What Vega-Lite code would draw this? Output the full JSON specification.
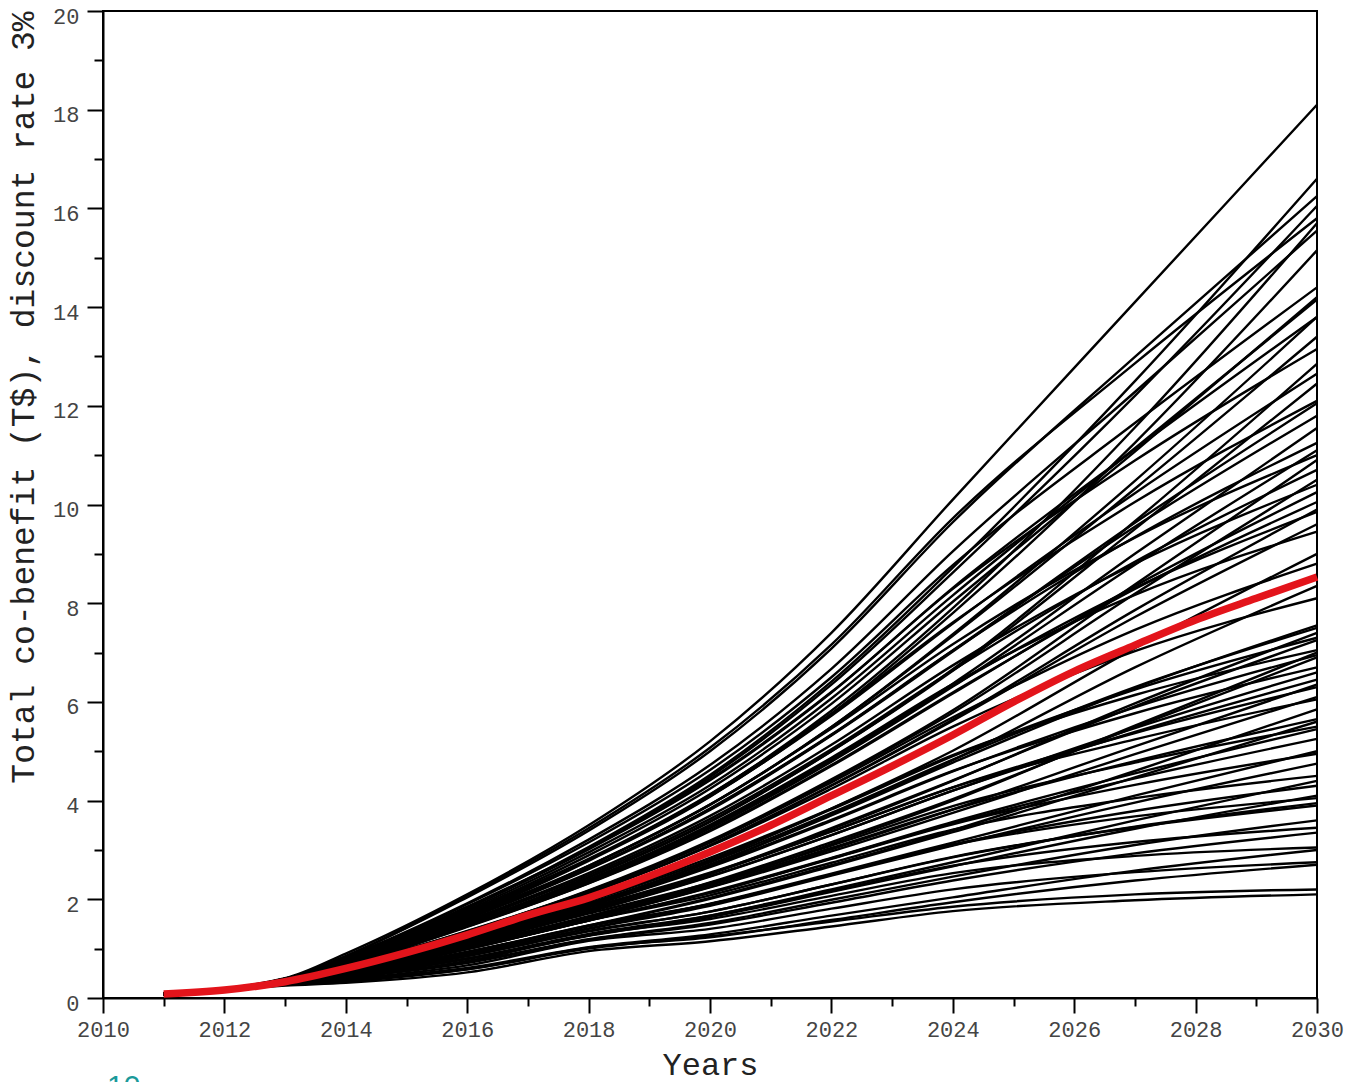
{
"$schema":"https://vega.github.io/schema/vega-lite/v6.json",
"width":1214,"height":987,
"autosize":{"type":"none"},
"padding":{"left":103,"top":11,"right":28,"bottom":84},
"background":"white",
"title":{"text":"10","orient":"bottom","anchor":"start","frame":"group","color":"#1a9a9a","fontSize":30,"fontWeight":"normal","font":"Liberation Sans","offset":-8,"dx":4,"baseline":"top"},
"config":{"view":{"stroke":"black","strokeWidth":2},
"axis":{"domainColor":"black","domainWidth":2,"tickColor":"black","tickWidth":2,"grid":false,"labelFont":"Liberation Mono","labelFontSize":22,"labelColor":"#444444","titleFont":"Liberation Mono","titleFontWeight":"normal","titleColor":"#222222"}},
"datasets":{
"runs":[
{"run":1,"year":2011,"v":0.06},{"run":1,"year":2013,"v":0.25},{"run":1,"year":2014,"v":0.31},{"run":1,"year":2016,"v":0.52},{"run":1,"year":2018,"v":0.95},{"run":1,"year":2020,"v":1.15},{"run":1,"year":2022,"v":1.45},{"run":1,"year":2024,"v":1.76},{"run":1,"year":2027,"v":1.98},{"run":1,"year":2030,"v":2.1},
{"run":2,"year":2011,"v":0.06},{"run":2,"year":2013,"v":0.26},{"run":2,"year":2014,"v":0.33},{"run":2,"year":2016,"v":0.58},{"run":2,"year":2018,"v":1.0},{"run":2,"year":2020,"v":1.25},{"run":2,"year":2022,"v":1.55},{"run":2,"year":2024,"v":1.85},{"run":2,"year":2027,"v":2.1},{"run":2,"year":2030,"v":2.2},
{"run":3,"year":2011,"v":0.06},{"run":3,"year":2013,"v":0.27},{"run":3,"year":2014,"v":0.36},{"run":3,"year":2016,"v":0.58},{"run":3,"year":2018,"v":1.02},{"run":3,"year":2020,"v":1.23},{"run":3,"year":2022,"v":1.58},{"run":3,"year":2024,"v":1.94},{"run":3,"year":2027,"v":2.38},{"run":3,"year":2030,"v":2.7},
{"run":4,"year":2011,"v":0.06},{"run":4,"year":2013,"v":0.27},{"run":4,"year":2014,"v":0.38},{"run":4,"year":2016,"v":0.66},{"run":4,"year":2018,"v":1.16},{"run":4,"year":2020,"v":1.4},{"run":4,"year":2022,"v":1.81},{"run":4,"year":2024,"v":2.2},{"run":4,"year":2027,"v":2.55},{"run":4,"year":2030,"v":2.75},
{"run":5,"year":2011,"v":0.065},{"run":5,"year":2013,"v":0.28},{"run":5,"year":2014,"v":0.37},{"run":5,"year":2016,"v":0.61},{"run":5,"year":2018,"v":1.03},{"run":5,"year":2020,"v":1.29},{"run":5,"year":2022,"v":1.67},{"run":5,"year":2024,"v":2.04},{"run":5,"year":2027,"v":2.58},{"run":5,"year":2030,"v":3.0},
{"run":6,"year":2011,"v":0.065},{"run":6,"year":2013,"v":0.28},{"run":6,"year":2014,"v":0.4},{"run":6,"year":2016,"v":0.75},{"run":6,"year":2018,"v":1.27},{"run":6,"year":2020,"v":1.6},{"run":6,"year":2022,"v":2.07},{"run":6,"year":2024,"v":2.53},{"run":6,"year":2027,"v":2.88},{"run":6,"year":2030,"v":3.05},
{"run":7,"year":2011,"v":0.067},{"run":7,"year":2013,"v":0.29},{"run":7,"year":2014,"v":0.41},{"run":7,"year":2016,"v":0.71},{"run":7,"year":2018,"v":1.18},{"run":7,"year":2020,"v":1.49},{"run":7,"year":2022,"v":1.93},{"run":7,"year":2024,"v":2.38},{"run":7,"year":2027,"v":2.93},{"run":7,"year":2030,"v":3.35},
{"run":8,"year":2011,"v":0.067},{"run":8,"year":2013,"v":0.29},{"run":8,"year":2014,"v":0.42},{"run":8,"year":2016,"v":0.8},{"run":8,"year":2018,"v":1.3},{"run":8,"year":2020,"v":1.67},{"run":8,"year":2022,"v":2.17},{"run":8,"year":2024,"v":2.68},{"run":8,"year":2027,"v":3.16},{"run":8,"year":2030,"v":3.45},
{"run":9,"year":2011,"v":0.068},{"run":9,"year":2013,"v":0.29},{"run":9,"year":2014,"v":0.42},{"run":9,"year":2016,"v":0.73},{"run":9,"year":2018,"v":1.19},{"run":9,"year":2020,"v":1.52},{"run":9,"year":2022,"v":1.99},{"run":9,"year":2024,"v":2.46},{"run":9,"year":2027,"v":3.1},{"run":9,"year":2030,"v":3.6},
{"run":10,"year":2011,"v":0.07},{"run":10,"year":2013,"v":0.3},{"run":10,"year":2014,"v":0.44},{"run":10,"year":2016,"v":0.85},{"run":10,"year":2018,"v":1.36},{"run":10,"year":2020,"v":1.75},{"run":10,"year":2022,"v":2.3},{"run":10,"year":2024,"v":2.86},{"run":10,"year":2027,"v":3.46},{"run":10,"year":2030,"v":3.9},
{"run":11,"year":2011,"v":0.07},{"run":11,"year":2013,"v":0.3},{"run":11,"year":2014,"v":0.45},{"run":11,"year":2016,"v":0.85},{"run":11,"year":2018,"v":1.35},{"run":11,"year":2020,"v":1.75},{"run":11,"year":2022,"v":2.3},{"run":11,"year":2024,"v":2.85},{"run":11,"year":2027,"v":3.47},{"run":11,"year":2030,"v":3.95},
{"run":12,"year":2011,"v":0.07},{"run":12,"year":2013,"v":0.3},{"run":12,"year":2014,"v":0.46},{"run":12,"year":2016,"v":0.92},{"run":12,"year":2018,"v":1.47},{"run":12,"year":2020,"v":1.9},{"run":12,"year":2022,"v":2.5},{"run":12,"year":2024,"v":3.1},{"run":12,"year":2027,"v":3.68},{"run":12,"year":2030,"v":4.05},
{"run":13,"year":2011,"v":0.07},{"run":13,"year":2013,"v":0.3},{"run":13,"year":2014,"v":0.44},{"run":13,"year":2016,"v":0.79},{"run":13,"year":2018,"v":1.26},{"run":13,"year":2020,"v":1.64},{"run":13,"year":2022,"v":2.15},{"run":13,"year":2024,"v":2.67},{"run":13,"year":2027,"v":3.43},{"run":13,"year":2030,"v":4.1},
{"run":14,"year":2011,"v":0.07},{"run":14,"year":2013,"v":0.3},{"run":14,"year":2014,"v":0.46},{"run":14,"year":2016,"v":0.92},{"run":14,"year":2018,"v":1.45},{"run":14,"year":2020,"v":1.9},{"run":14,"year":2022,"v":2.5},{"run":14,"year":2024,"v":3.11},{"run":14,"year":2027,"v":3.79},{"run":14,"year":2030,"v":4.3},
{"run":15,"year":2011,"v":0.072},{"run":15,"year":2013,"v":0.3},{"run":15,"year":2014,"v":0.45},{"run":15,"year":2016,"v":0.8},{"run":15,"year":2018,"v":1.27},{"run":15,"year":2020,"v":1.67},{"run":15,"year":2022,"v":2.2},{"run":15,"year":2024,"v":2.75},{"run":15,"year":2027,"v":3.6},{"run":15,"year":2030,"v":4.4},
{"run":16,"year":2011,"v":0.072},{"run":16,"year":2013,"v":0.31},{"run":16,"year":2014,"v":0.48},{"run":16,"year":2016,"v":0.99},{"run":16,"year":2018,"v":1.57},{"run":16,"year":2020,"v":2.08},{"run":16,"year":2022,"v":2.74},{"run":16,"year":2024,"v":3.41},{"run":16,"year":2027,"v":4.05},{"run":16,"year":2030,"v":4.5},
{"run":17,"year":2011,"v":0.074},{"run":17,"year":2013,"v":0.31},{"run":17,"year":2014,"v":0.47},{"run":17,"year":2016,"v":0.89},{"run":17,"year":2018,"v":1.4},{"run":17,"year":2020,"v":1.87},{"run":17,"year":2022,"v":2.48},{"run":17,"year":2024,"v":3.09},{"run":17,"year":2027,"v":3.96},{"run":17,"year":2030,"v":4.75},
{"run":18,"year":2011,"v":0.075},{"run":18,"year":2013,"v":0.31},{"run":18,"year":2014,"v":0.49},{"run":18,"year":2016,"v":1.0},{"run":18,"year":2018,"v":1.58},{"run":18,"year":2020,"v":2.13},{"run":18,"year":2022,"v":2.82},{"run":18,"year":2024,"v":3.52},{"run":18,"year":2027,"v":4.32},{"run":18,"year":2030,"v":4.95},
{"run":19,"year":2011,"v":0.075},{"run":19,"year":2013,"v":0.31},{"run":19,"year":2014,"v":0.47},{"run":19,"year":2016,"v":0.89},{"run":19,"year":2018,"v":1.41},{"run":19,"year":2020,"v":1.91},{"run":19,"year":2022,"v":2.52},{"run":19,"year":2024,"v":3.15},{"run":19,"year":2027,"v":4.1},{"run":19,"year":2030,"v":5.0},
{"run":20,"year":2011,"v":0.076},{"run":20,"year":2013,"v":0.31},{"run":20,"year":2014,"v":0.5},{"run":20,"year":2016,"v":0.99},{"run":20,"year":2018,"v":1.57},{"run":20,"year":2020,"v":2.13},{"run":20,"year":2022,"v":2.83},{"run":20,"year":2024,"v":3.54},{"run":20,"year":2027,"v":4.45},{"run":20,"year":2030,"v":5.25},
{"run":21,"year":2011,"v":0.077},{"run":21,"year":2013,"v":0.32},{"run":21,"year":2014,"v":0.5},{"run":21,"year":2016,"v":1.0},{"run":21,"year":2018,"v":1.57},{"run":21,"year":2020,"v":2.15},{"run":21,"year":2022,"v":2.84},{"run":21,"year":2024,"v":3.57},{"run":21,"year":2027,"v":4.55},{"run":21,"year":2030,"v":5.45},
{"run":22,"year":2011,"v":0.078},{"run":22,"year":2013,"v":0.32},{"run":22,"year":2014,"v":0.52},{"run":22,"year":2016,"v":1.08},{"run":22,"year":2018,"v":1.71},{"run":22,"year":2020,"v":2.33},{"run":22,"year":2022,"v":3.09},{"run":22,"year":2024,"v":3.89},{"run":22,"year":2027,"v":4.77},{"run":22,"year":2030,"v":5.5},
{"run":23,"year":2011,"v":0.078},{"run":23,"year":2013,"v":0.31},{"run":23,"year":2014,"v":0.49},{"run":23,"year":2016,"v":0.93},{"run":23,"year":2018,"v":1.46},{"run":23,"year":2020,"v":2.01},{"run":23,"year":2022,"v":2.67},{"run":23,"year":2024,"v":3.36},{"run":23,"year":2027,"v":4.47},{"run":23,"year":2030,"v":5.6},
{"run":24,"year":2011,"v":0.078},{"run":24,"year":2013,"v":0.32},{"run":24,"year":2014,"v":0.51},{"run":24,"year":2016,"v":1.06},{"run":24,"year":2018,"v":1.66},{"run":24,"year":2020,"v":2.29},{"run":24,"year":2022,"v":3.04},{"run":24,"year":2024,"v":3.82},{"run":24,"year":2027,"v":4.8},{"run":24,"year":2030,"v":5.65},
{"run":25,"year":2011,"v":0.08},{"run":25,"year":2013,"v":0.32},{"run":25,"year":2014,"v":0.49},{"run":25,"year":2016,"v":0.94},{"run":25,"year":2018,"v":1.47},{"run":25,"year":2020,"v":2.03},{"run":25,"year":2022,"v":2.69},{"run":25,"year":2024,"v":3.4},{"run":25,"year":2027,"v":4.6},{"run":25,"year":2030,"v":5.85},
{"run":26,"year":2011,"v":0.08},{"run":26,"year":2013,"v":0.32},{"run":26,"year":2014,"v":0.54},{"run":26,"year":2016,"v":1.16},{"run":26,"year":2018,"v":1.83},{"run":26,"year":2020,"v":2.54},{"run":26,"year":2022,"v":3.38},{"run":26,"year":2024,"v":4.27},{"run":26,"year":2027,"v":5.24},{"run":26,"year":2030,"v":6.05},
{"run":27,"year":2011,"v":0.08},{"run":27,"year":2013,"v":0.32},{"run":27,"year":2014,"v":0.52},{"run":27,"year":2016,"v":1.02},{"run":27,"year":2018,"v":1.6},{"run":27,"year":2020,"v":2.24},{"run":27,"year":2022,"v":2.97},{"run":27,"year":2024,"v":3.75},{"run":27,"year":2027,"v":4.94},{"run":27,"year":2030,"v":6.1},
{"run":28,"year":2011,"v":0.08},{"run":28,"year":2013,"v":0.32},{"run":28,"year":2014,"v":0.54},{"run":28,"year":2016,"v":1.14},{"run":28,"year":2018,"v":1.8},{"run":28,"year":2020,"v":2.52},{"run":28,"year":2022,"v":3.37},{"run":28,"year":2024,"v":4.27},{"run":28,"year":2027,"v":5.37},{"run":28,"year":2030,"v":6.3},
{"run":29,"year":2011,"v":0.08},{"run":29,"year":2013,"v":0.32},{"run":29,"year":2014,"v":0.52},{"run":29,"year":2016,"v":1.02},{"run":29,"year":2018,"v":1.6},{"run":29,"year":2020,"v":2.25},{"run":29,"year":2022,"v":3.01},{"run":29,"year":2024,"v":3.82},{"run":29,"year":2027,"v":5.1},{"run":29,"year":2030,"v":6.35},
{"run":30,"year":2011,"v":0.08},{"run":30,"year":2013,"v":0.32},{"run":30,"year":2014,"v":0.54},{"run":30,"year":2016,"v":1.11},{"run":30,"year":2018,"v":1.75},{"run":30,"year":2020,"v":2.47},{"run":30,"year":2022,"v":3.3},{"run":30,"year":2024,"v":4.2},{"run":30,"year":2027,"v":5.39},{"run":30,"year":2030,"v":6.45},
{"run":31,"year":2011,"v":0.08},{"run":31,"year":2013,"v":0.32},{"run":31,"year":2014,"v":0.54},{"run":31,"year":2016,"v":1.1},{"run":31,"year":2018,"v":1.74},{"run":31,"year":2020,"v":2.46},{"run":31,"year":2022,"v":3.3},{"run":31,"year":2024,"v":4.2},{"run":31,"year":2027,"v":5.47},{"run":31,"year":2030,"v":6.6},
{"run":32,"year":2011,"v":0.08},{"run":32,"year":2013,"v":0.32},{"run":32,"year":2014,"v":0.55},{"run":32,"year":2016,"v":1.2},{"run":32,"year":2018,"v":1.9},{"run":32,"year":2020,"v":2.68},{"run":32,"year":2022,"v":3.61},{"run":32,"year":2024,"v":4.6},{"run":32,"year":2027,"v":5.77},{"run":32,"year":2030,"v":6.7},
{"run":33,"year":2011,"v":0.08},{"run":33,"year":2013,"v":0.32},{"run":33,"year":2014,"v":0.53},{"run":33,"year":2016,"v":1.04},{"run":33,"year":2018,"v":1.65},{"run":33,"year":2020,"v":2.34},{"run":33,"year":2022,"v":3.16},{"run":33,"year":2024,"v":4.03},{"run":33,"year":2027,"v":5.49},{"run":33,"year":2030,"v":6.9},
{"run":34,"year":2011,"v":0.08},{"run":34,"year":2013,"v":0.32},{"run":34,"year":2014,"v":0.56},{"run":34,"year":2016,"v":1.19},{"run":34,"year":2018,"v":1.86},{"run":34,"year":2020,"v":2.65},{"run":34,"year":2022,"v":3.59},{"run":34,"year":2024,"v":4.59},{"run":34,"year":2027,"v":5.89},{"run":34,"year":2030,"v":6.95},
{"run":35,"year":2011,"v":0.08},{"run":35,"year":2013,"v":0.32},{"run":35,"year":2014,"v":0.53},{"run":35,"year":2016,"v":1.03},{"run":35,"year":2018,"v":1.62},{"run":35,"year":2020,"v":2.3},{"run":35,"year":2022,"v":3.12},{"run":35,"year":2024,"v":4.0},{"run":35,"year":2027,"v":5.52},{"run":35,"year":2030,"v":7.0},
{"run":36,"year":2011,"v":0.08},{"run":36,"year":2013,"v":0.33},{"run":36,"year":2014,"v":0.57},{"run":36,"year":2016,"v":1.26},{"run":36,"year":2018,"v":1.99},{"run":36,"year":2020,"v":2.84},{"run":36,"year":2022,"v":3.84},{"run":36,"year":2024,"v":4.92},{"run":36,"year":2027,"v":6.14},{"run":36,"year":2030,"v":7.05},
{"run":37,"year":2011,"v":0.08},{"run":37,"year":2013,"v":0.32},{"run":37,"year":2014,"v":0.55},{"run":37,"year":2016,"v":1.12},{"run":37,"year":2018,"v":1.77},{"run":37,"year":2020,"v":2.52},{"run":37,"year":2022,"v":3.44},{"run":37,"year":2024,"v":4.41},{"run":37,"year":2027,"v":5.91},{"run":37,"year":2030,"v":7.25},
{"run":38,"year":2011,"v":0.08},{"run":38,"year":2013,"v":0.33},{"run":38,"year":2014,"v":0.57},{"run":38,"year":2016,"v":1.24},{"run":38,"year":2018,"v":1.96},{"run":38,"year":2020,"v":2.8},{"run":38,"year":2022,"v":3.82},{"run":38,"year":2024,"v":4.9},{"run":38,"year":2027,"v":6.25},{"run":38,"year":2030,"v":7.3},
{"run":39,"year":2011,"v":0.08},{"run":39,"year":2013,"v":0.33},{"run":39,"year":2014,"v":0.55},{"run":39,"year":2016,"v":1.11},{"run":39,"year":2018,"v":1.75},{"run":39,"year":2020,"v":2.51},{"run":39,"year":2022,"v":3.42},{"run":39,"year":2024,"v":4.4},{"run":39,"year":2027,"v":5.97},{"run":39,"year":2030,"v":7.4},
{"run":40,"year":2011,"v":0.08},{"run":40,"year":2013,"v":0.33},{"run":40,"year":2014,"v":0.57},{"run":40,"year":2016,"v":1.21},{"run":40,"year":2018,"v":1.92},{"run":40,"year":2020,"v":2.75},{"run":40,"year":2022,"v":3.75},{"run":40,"year":2024,"v":4.83},{"run":40,"year":2027,"v":6.3},{"run":40,"year":2030,"v":7.5},
{"run":41,"year":2011,"v":0.08},{"run":41,"year":2013,"v":0.33},{"run":41,"year":2014,"v":0.57},{"run":41,"year":2016,"v":1.19},{"run":41,"year":2018,"v":1.89},{"run":41,"year":2020,"v":2.71},{"run":41,"year":2022,"v":3.7},{"run":41,"year":2024,"v":4.77},{"run":41,"year":2027,"v":6.28},{"run":41,"year":2030,"v":7.55},
{"run":42,"year":2011,"v":0.08},{"run":42,"year":2013,"v":0.33},{"run":42,"year":2014,"v":0.6},{"run":42,"year":2016,"v":1.34},{"run":42,"year":2018,"v":2.13},{"run":42,"year":2020,"v":3.08},{"run":42,"year":2022,"v":4.24},{"run":42,"year":2024,"v":5.5},{"run":42,"year":2027,"v":7.03},{"run":42,"year":2030,"v":8.1},
{"run":43,"year":2011,"v":0.08},{"run":43,"year":2013,"v":0.33},{"run":43,"year":2014,"v":0.58},{"run":43,"year":2016,"v":1.17},{"run":43,"year":2018,"v":1.85},{"run":43,"year":2020,"v":2.69},{"run":43,"year":2022,"v":3.72},{"run":43,"year":2024,"v":4.82},{"run":43,"year":2027,"v":6.7},{"run":43,"year":2030,"v":8.35},
{"run":44,"year":2011,"v":0.08},{"run":44,"year":2013,"v":0.33},{"run":44,"year":2014,"v":0.62},{"run":44,"year":2016,"v":1.36},{"run":44,"year":2018,"v":2.16},{"run":44,"year":2020,"v":3.15},{"run":44,"year":2022,"v":4.37},{"run":44,"year":2024,"v":5.69},{"run":44,"year":2027,"v":7.46},{"run":44,"year":2030,"v":8.8},
{"run":45,"year":2011,"v":0.08},{"run":45,"year":2013,"v":0.33},{"run":45,"year":2014,"v":0.6},{"run":45,"year":2016,"v":1.2},{"run":45,"year":2018,"v":1.9},{"run":45,"year":2020,"v":2.77},{"run":45,"year":2022,"v":3.84},{"run":45,"year":2024,"v":5.01},{"run":45,"year":2027,"v":7.09},{"run":45,"year":2030,"v":9.0},
{"run":46,"year":2011,"v":0.083},{"run":46,"year":2013,"v":0.34},{"run":46,"year":2014,"v":0.65},{"run":46,"year":2016,"v":1.51},{"run":46,"year":2018,"v":2.4},{"run":46,"year":2020,"v":3.51},{"run":46,"year":2022,"v":4.87},{"run":46,"year":2024,"v":6.36},{"run":46,"year":2027,"v":8.17},{"run":46,"year":2030,"v":9.45},
{"run":47,"year":2011,"v":0.083},{"run":47,"year":2013,"v":0.34},{"run":47,"year":2014,"v":0.63},{"run":47,"year":2016,"v":1.32},{"run":47,"year":2018,"v":2.12},{"run":47,"year":2020,"v":3.09},{"run":47,"year":2022,"v":4.3},{"run":47,"year":2024,"v":5.62},{"run":47,"year":2027,"v":7.72},{"run":47,"year":2030,"v":9.6},
{"run":48,"year":2011,"v":0.084},{"run":48,"year":2013,"v":0.34},{"run":48,"year":2014,"v":0.65},{"run":48,"year":2016,"v":1.48},{"run":48,"year":2018,"v":2.39},{"run":48,"year":2020,"v":3.48},{"run":48,"year":2022,"v":4.83},{"run":48,"year":2024,"v":6.33},{"run":48,"year":2027,"v":8.31},{"run":48,"year":2030,"v":9.85},
{"run":49,"year":2011,"v":0.084},{"run":49,"year":2013,"v":0.34},{"run":49,"year":2014,"v":0.64},{"run":49,"year":2016,"v":1.33},{"run":49,"year":2018,"v":2.12},{"run":49,"year":2020,"v":3.1},{"run":49,"year":2022,"v":4.31},{"run":49,"year":2024,"v":5.64},{"run":49,"year":2027,"v":7.86},{"run":49,"year":2030,"v":9.9},
{"run":50,"year":2011,"v":0.084},{"run":50,"year":2013,"v":0.34},{"run":50,"year":2014,"v":0.65},{"run":50,"year":2016,"v":1.45},{"run":50,"year":2018,"v":2.33},{"run":50,"year":2020,"v":3.4},{"run":50,"year":2022,"v":4.72},{"run":50,"year":2024,"v":6.19},{"run":50,"year":2027,"v":8.29},{"run":50,"year":2030,"v":10.05},
{"run":51,"year":2011,"v":0.085},{"run":51,"year":2013,"v":0.35},{"run":51,"year":2014,"v":0.66},{"run":51,"year":2016,"v":1.44},{"run":51,"year":2018,"v":2.32},{"run":51,"year":2020,"v":3.38},{"run":51,"year":2022,"v":4.7},{"run":51,"year":2024,"v":6.17},{"run":51,"year":2027,"v":8.35},{"run":51,"year":2030,"v":10.25},
{"run":52,"year":2011,"v":0.085},{"run":52,"year":2013,"v":0.35},{"run":52,"year":2014,"v":0.68},{"run":52,"year":2016,"v":1.57},{"run":52,"year":2018,"v":2.53},{"run":52,"year":2020,"v":3.69},{"run":52,"year":2022,"v":5.13},{"run":52,"year":2024,"v":6.74},{"run":52,"year":2027,"v":8.8},{"run":52,"year":2030,"v":10.4},
{"run":53,"year":2011,"v":0.086},{"run":53,"year":2013,"v":0.35},{"run":53,"year":2014,"v":0.65},{"run":53,"year":2016,"v":1.34},{"run":53,"year":2018,"v":2.17},{"run":53,"year":2020,"v":3.16},{"run":53,"year":2022,"v":4.41},{"run":53,"year":2024,"v":5.78},{"run":53,"year":2027,"v":8.19},{"run":53,"year":2030,"v":10.5},
{"run":54,"year":2011,"v":0.086},{"run":54,"year":2013,"v":0.35},{"run":54,"year":2014,"v":0.68},{"run":54,"year":2016,"v":1.54},{"run":54,"year":2018,"v":2.49},{"run":54,"year":2020,"v":3.63},{"run":54,"year":2022,"v":5.04},{"run":54,"year":2024,"v":6.64},{"run":54,"year":2027,"v":8.84},{"run":54,"year":2030,"v":10.7},
{"run":55,"year":2011,"v":0.087},{"run":55,"year":2013,"v":0.35},{"run":55,"year":2014,"v":0.66},{"run":55,"year":2016,"v":1.35},{"run":55,"year":2018,"v":2.18},{"run":55,"year":2020,"v":3.19},{"run":55,"year":2022,"v":4.43},{"run":55,"year":2024,"v":5.83},{"run":55,"year":2027,"v":8.38},{"run":55,"year":2030,"v":10.9},
{"run":56,"year":2011,"v":0.087},{"run":56,"year":2013,"v":0.35},{"run":56,"year":2014,"v":0.7},{"run":56,"year":2016,"v":1.66},{"run":56,"year":2018,"v":2.68},{"run":56,"year":2020,"v":3.92},{"run":56,"year":2022,"v":5.46},{"run":56,"year":2024,"v":7.17},{"run":56,"year":2027,"v":9.33},{"run":56,"year":2030,"v":11.0},
{"run":57,"year":2011,"v":0.087},{"run":57,"year":2013,"v":0.35},{"run":57,"year":2014,"v":0.68},{"run":57,"year":2016,"v":1.46},{"run":57,"year":2018,"v":2.35},{"run":57,"year":2020,"v":3.44},{"run":57,"year":2022,"v":4.79},{"run":57,"year":2024,"v":6.31},{"run":57,"year":2027,"v":8.78},{"run":57,"year":2030,"v":11.1},
{"run":58,"year":2011,"v":0.088},{"run":58,"year":2013,"v":0.35},{"run":58,"year":2014,"v":0.7},{"run":58,"year":2016,"v":1.62},{"run":58,"year":2018,"v":2.63},{"run":58,"year":2020,"v":3.84},{"run":58,"year":2022,"v":5.34},{"run":58,"year":2024,"v":7.04},{"run":58,"year":2027,"v":9.34},{"run":58,"year":2030,"v":11.25},
{"run":59,"year":2011,"v":0.089},{"run":59,"year":2013,"v":0.36},{"run":59,"year":2014,"v":0.69},{"run":59,"year":2016,"v":1.47},{"run":59,"year":2018,"v":2.38},{"run":59,"year":2020,"v":3.47},{"run":59,"year":2022,"v":4.84},{"run":59,"year":2024,"v":6.37},{"run":59,"year":2027,"v":9.0},{"run":59,"year":2030,"v":11.55},
{"run":60,"year":2011,"v":0.089},{"run":60,"year":2013,"v":0.36},{"run":60,"year":2014,"v":0.71},{"run":60,"year":2016,"v":1.61},{"run":60,"year":2018,"v":2.62},{"run":60,"year":2020,"v":3.83},{"run":60,"year":2022,"v":5.33},{"run":60,"year":2024,"v":7.04},{"run":60,"year":2027,"v":9.55},{"run":60,"year":2030,"v":11.8},
{"run":61,"year":2011,"v":0.09},{"run":61,"year":2013,"v":0.36},{"run":61,"year":2014,"v":0.72},{"run":61,"year":2016,"v":1.6},{"run":61,"year":2018,"v":2.61},{"run":61,"year":2020,"v":3.81},{"run":61,"year":2022,"v":5.32},{"run":61,"year":2024,"v":7.02},{"run":61,"year":2027,"v":9.63},{"run":61,"year":2030,"v":12.05},
{"run":62,"year":2011,"v":0.09},{"run":62,"year":2013,"v":0.36},{"run":62,"year":2014,"v":0.74},{"run":62,"year":2016,"v":1.74},{"run":62,"year":2018,"v":2.82},{"run":62,"year":2020,"v":4.13},{"run":62,"year":2022,"v":5.76},{"run":62,"year":2024,"v":7.61},{"run":62,"year":2027,"v":10.05},{"run":62,"year":2030,"v":12.1},
{"run":63,"year":2011,"v":0.09},{"run":63,"year":2013,"v":0.36},{"run":63,"year":2014,"v":0.71},{"run":63,"year":2016,"v":1.5},{"run":63,"year":2018,"v":2.45},{"run":63,"year":2020,"v":3.58},{"run":63,"year":2022,"v":5.0},{"run":63,"year":2024,"v":6.63},{"run":63,"year":2027,"v":9.5},{"run":63,"year":2030,"v":12.45},
{"run":64,"year":2011,"v":0.09},{"run":64,"year":2013,"v":0.36},{"run":64,"year":2014,"v":0.75},{"run":64,"year":2016,"v":1.71},{"run":64,"year":2018,"v":2.8},{"run":64,"year":2020,"v":4.09},{"run":64,"year":2022,"v":5.72},{"run":64,"year":2024,"v":7.59},{"run":64,"year":2027,"v":10.23},{"run":64,"year":2030,"v":12.65},
{"run":65,"year":2011,"v":0.09},{"run":65,"year":2013,"v":0.37},{"run":65,"year":2014,"v":0.72},{"run":65,"year":2016,"v":1.49},{"run":65,"year":2018,"v":2.44},{"run":65,"year":2020,"v":3.57},{"run":65,"year":2022,"v":5.0},{"run":65,"year":2024,"v":6.66},{"run":65,"year":2027,"v":9.66},{"run":65,"year":2030,"v":12.85},
{"run":66,"year":2011,"v":0.09},{"run":66,"year":2013,"v":0.37},{"run":66,"year":2014,"v":0.77},{"run":66,"year":2016,"v":1.85},{"run":66,"year":2018,"v":3.03},{"run":66,"year":2020,"v":4.43},{"run":66,"year":2022,"v":6.2},{"run":66,"year":2024,"v":8.29},{"run":66,"year":2027,"v":10.89},{"run":66,"year":2030,"v":13.15},
{"run":67,"year":2011,"v":0.09},{"run":67,"year":2013,"v":0.37},{"run":67,"year":2014,"v":0.75},{"run":67,"year":2016,"v":1.62},{"run":67,"year":2018,"v":2.68},{"run":67,"year":2020,"v":3.92},{"run":67,"year":2022,"v":5.49},{"run":67,"year":2024,"v":7.34},{"run":67,"year":2027,"v":10.32},{"run":67,"year":2030,"v":13.4},
{"run":68,"year":2011,"v":0.09},{"run":68,"year":2013,"v":0.37},{"run":68,"year":2014,"v":0.78},{"run":68,"year":2016,"v":1.82},{"run":68,"year":2018,"v":3.01},{"run":68,"year":2020,"v":4.41},{"run":68,"year":2022,"v":6.19},{"run":68,"year":2024,"v":8.31},{"run":68,"year":2027,"v":11.12},{"run":68,"year":2030,"v":13.8},
{"run":69,"year":2011,"v":0.09},{"run":69,"year":2013,"v":0.37},{"run":69,"year":2014,"v":0.75},{"run":69,"year":2016,"v":1.62},{"run":69,"year":2018,"v":2.67},{"run":69,"year":2020,"v":3.91},{"run":69,"year":2022,"v":5.49},{"run":69,"year":2024,"v":7.37},{"run":69,"year":2027,"v":10.48},{"run":69,"year":2030,"v":13.8},
{"run":70,"year":2011,"v":0.09},{"run":70,"year":2013,"v":0.37},{"run":70,"year":2014,"v":0.78},{"run":70,"year":2016,"v":1.78},{"run":70,"year":2018,"v":2.95},{"run":70,"year":2020,"v":4.31},{"run":70,"year":2022,"v":6.07},{"run":70,"year":2024,"v":8.16},{"run":70,"year":2027,"v":11.14},{"run":70,"year":2030,"v":14.15},
{"run":71,"year":2011,"v":0.09},{"run":71,"year":2013,"v":0.37},{"run":71,"year":2014,"v":0.78},{"run":71,"year":2016,"v":1.75},{"run":71,"year":2018,"v":2.89},{"run":71,"year":2020,"v":4.24},{"run":71,"year":2022,"v":5.96},{"run":71,"year":2024,"v":8.03},{"run":71,"year":2027,"v":11.07},{"run":71,"year":2030,"v":14.2},
{"run":72,"year":2011,"v":0.09},{"run":72,"year":2013,"v":0.38},{"run":72,"year":2014,"v":0.8},{"run":72,"year":2016,"v":1.9},{"run":72,"year":2018,"v":3.15},{"run":72,"year":2020,"v":4.62},{"run":72,"year":2022,"v":6.5},{"run":72,"year":2024,"v":8.77},{"run":72,"year":2027,"v":11.65},{"run":72,"year":2030,"v":14.4},
{"run":73,"year":2011,"v":0.09},{"run":73,"year":2013,"v":0.38},{"run":73,"year":2014,"v":0.78},{"run":73,"year":2016,"v":1.67},{"run":73,"year":2018,"v":2.78},{"run":73,"year":2020,"v":4.08},{"run":73,"year":2022,"v":5.76},{"run":73,"year":2024,"v":7.8},{"run":73,"year":2027,"v":11.25},{"run":73,"year":2030,"v":15.15},
{"run":74,"year":2011,"v":0.092},{"run":74,"year":2013,"v":0.38},{"run":74,"year":2014,"v":0.83},{"run":74,"year":2016,"v":1.92},{"run":74,"year":2018,"v":3.21},{"run":74,"year":2020,"v":4.72},{"run":74,"year":2022,"v":6.67},{"run":74,"year":2024,"v":9.05},{"run":74,"year":2027,"v":12.28},{"run":74,"year":2030,"v":15.55},
{"run":75,"year":2011,"v":0.092},{"run":75,"year":2013,"v":0.38},{"run":75,"year":2014,"v":0.8},{"run":75,"year":2016,"v":1.68},{"run":75,"year":2018,"v":2.8},{"run":75,"year":2020,"v":4.12},{"run":75,"year":2022,"v":5.82},{"run":75,"year":2024,"v":7.9},{"run":75,"year":2027,"v":11.56},{"run":75,"year":2030,"v":15.7},
{"run":76,"year":2011,"v":0.093},{"run":76,"year":2013,"v":0.39},{"run":76,"year":2014,"v":0.85},{"run":76,"year":2016,"v":2.07},{"run":76,"year":2018,"v":3.44},{"run":76,"year":2020,"v":5.07},{"run":76,"year":2022,"v":7.16},{"run":76,"year":2024,"v":9.72},{"run":76,"year":2027,"v":12.86},{"run":76,"year":2030,"v":15.8},
{"run":77,"year":2011,"v":0.093},{"run":77,"year":2013,"v":0.39},{"run":77,"year":2014,"v":0.82},{"run":77,"year":2016,"v":1.82},{"run":77,"year":2018,"v":3.04},{"run":77,"year":2020,"v":4.48},{"run":77,"year":2022,"v":6.35},{"run":77,"year":2024,"v":8.62},{"run":77,"year":2027,"v":12.2},{"run":77,"year":2030,"v":16.05},
{"run":78,"year":2011,"v":0.094},{"run":78,"year":2013,"v":0.39},{"run":78,"year":2014,"v":0.85},{"run":78,"year":2016,"v":2.04},{"run":78,"year":2018,"v":3.39},{"run":78,"year":2020,"v":5.0},{"run":78,"year":2022,"v":7.08},{"run":78,"year":2024,"v":9.64},{"run":78,"year":2027,"v":12.99},{"run":78,"year":2030,"v":16.25},
{"run":79,"year":2011,"v":0.095},{"run":79,"year":2013,"v":0.39},{"run":79,"year":2014,"v":0.83},{"run":79,"year":2016,"v":1.83},{"run":79,"year":2018,"v":3.06},{"run":79,"year":2020,"v":4.52},{"run":79,"year":2022,"v":6.41},{"run":79,"year":2024,"v":8.72},{"run":79,"year":2027,"v":12.5},{"run":79,"year":2030,"v":16.6},
{"run":80,"year":2011,"v":0.1},{"run":80,"year":2013,"v":0.4},{"run":80,"year":2014,"v":0.9},{"run":80,"year":2016,"v":2.1},{"run":80,"year":2018,"v":3.5},{"run":80,"year":2020,"v":5.2},{"run":80,"year":2022,"v":7.4},{"run":80,"year":2024,"v":10.1},{"run":80,"year":2027,"v":14.1},{"run":80,"year":2030,"v":18.1}
],
"mean":[
{"year":2011,"v":0.08},{"year":2012,"v":0.16},{"year":2013,"v":0.33},{"year":2014,"v":0.6},{"year":2015,"v":0.92},{"year":2016,"v":1.28},{"year":2017,"v":1.68},{"year":2018,"v":2.03},{"year":2019,"v":2.47},{"year":2020,"v":2.96},{"year":2021,"v":3.5},{"year":2022,"v":4.1},{"year":2023,"v":4.7},{"year":2024,"v":5.33},{"year":2025,"v":6.0},{"year":2026,"v":6.62},{"year":2027,"v":7.15},{"year":2028,"v":7.66},{"year":2029,"v":8.1},{"year":2030,"v":8.53}
]},
"encoding":{
"x":{"field":"year","type":"quantitative","scale":{"domain":[2010,2030],"nice":false,"zero":false},
"axis":{"title":"Years","values":[2010,2011,2012,2013,2014,2015,2016,2017,2018,2019,2020,2021,2022,2023,2024,2025,2026,2027,2028,2029,2030],"format":"d","labelExpr":"datum.value % 2 === 0 ? datum.label : ''","labelFlush":false,"labelOverlap":false,"labelPadding":6,"tickSize":{"condition":{"test":"datum.value % 2 === 0","value":15},"value":8},"titleFontSize":32,"titleY":76,"titleBaseline":"alphabetic"}},
"y":{"field":"v","type":"quantitative","scale":{"domain":[0,20],"nice":false},
"axis":{"title":"Total co-benefit (T$), discount rate 3%","values":[0,1,2,3,4,5,6,7,8,9,10,11,12,13,14,15,16,17,18,19,20],"labelExpr":"datum.value % 2 === 0 ? datum.label : ''","labelOverlap":false,"labelFlush":false,"labelPadding":8,"labelOffset":5,"tickSize":{"condition":{"test":"datum.value % 2 === 0","value":16},"value":9},"titleFontSize":33,"titleX":-70,"titleY":386,"titleAlign":"center","titleAngle":-90,"titleBaseline":"alphabetic"}}
},
"layer":[
{"data":{"name":"runs"},"mark":{"type":"line","interpolate":"monotone","color":"black","strokeWidth":2.4},"encoding":{"detail":{"field":"run","type":"nominal"}}},
{"data":{"name":"mean"},"mark":{"type":"line","interpolate":"monotone","color":"#e3141b","strokeWidth":7.5}}
]
}
